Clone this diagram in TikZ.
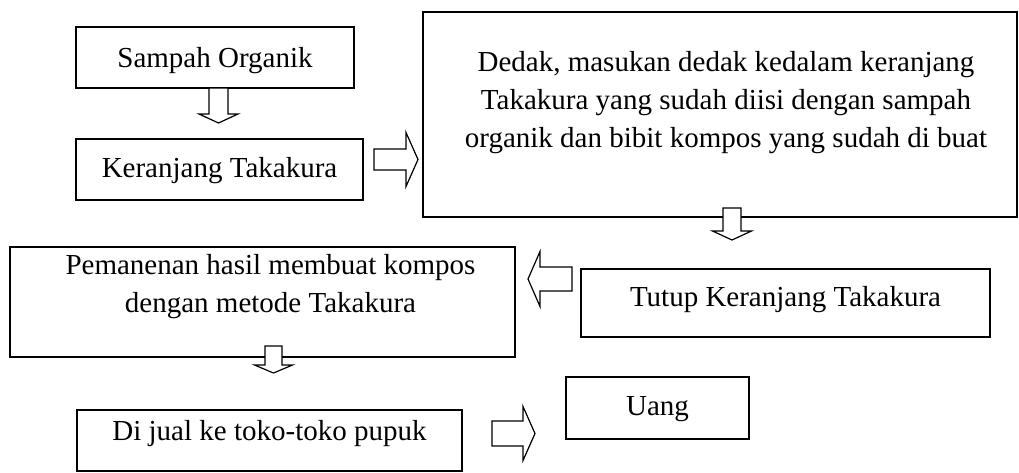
\documentclass[tikz,border=0pt]{standalone}
\usepackage{fontspec}
\setmainfont{Liberation Serif}
\tikzset{
  box/.style={draw, line width=1.6pt, rectangle, outer sep=0pt, inner sep=0pt, font=\fontsize{29}{38}\selectfont},
  hollow/.style={draw, fill=white, line width=1.2pt, line join=miter},
}
% tail position, angle, length, shaft half-width, head half-width, head length
\newcommand{\hollowarrow}[6]{%
  \draw[hollow, shift={(#1)}, rotate=#2]
    (0,-#4) -- ({#3-#6},-#4) -- ({#3-#6},-#5) -- (#3,0) -- ({#3-#6},#5) -- ({#3-#6},#4) -- (0,#4) -- cycle;}
\begin{document}
\begin{tikzpicture}[x=1pt,y=-1pt]
\useasboundingbox[fill=white] (0,0) rectangle (1019,472);

\node[box, minimum width=278, minimum height=61, text height=20pt, text depth=1pt] (sampah) at (215,57.5) {Sampah Organik};
\node[box, minimum width=287, minimum height=61, text height=20pt, text depth=5pt] (keranjang) at (219.5,169.5) {Keranjang Takakura};
\node[box, minimum width=594, minimum height=205, text height=70pt, text depth=5pt] (dedak) at (720,114.5)
  {\hspace{12pt}\begin{tabular}[b]{@{}c@{}}Dedak, masukan dedak kedalam keranjang\\Takakura yang sudah diisi dengan sampah\\organik dan bibit kompos yang sudah di buat\end{tabular}};
\node[box, minimum width=409, minimum height=68, text height=20pt, text depth=14pt] (tutup) at (785.5,303) {Tutup Keranjang Takakura};
\node[box, minimum width=505, minimum height=110, text height=30pt, text depth=10pt] (panen) at (262.5,302)
  {\hspace{16pt}\begin{tabular}[b]{@{}c@{}}Pemanenan hasil membuat kompos\\dengan metode Takakura\end{tabular}};
\node[box, minimum width=385, minimum height=61, text height=20pt, text depth=21pt] (jual) at (269.5,440.5) {Di jual ke toko-toko pupuk\hspace{9pt}};
\node[box, minimum width=183, minimum height=62, text height=20pt, text depth=6pt] (uang) at (657.5,408) {Uang};

\hollowarrow{218.5,88}{-90}{35}{9.5}{19.5}{9}
\hollowarrow{374,159.5}{0}{44}{10.5}{27}{12}
\hollowarrow{732,208}{-90}{32}{9}{19.5}{9}
\hollowarrow{572,279}{180}{44}{12}{27.5}{12}
\hollowarrow{273.5,346}{-90}{27}{8.5}{19}{8}
\hollowarrow{492,433.5}{0}{43}{12.5}{27}{12}
\end{tikzpicture}
\end{document}
